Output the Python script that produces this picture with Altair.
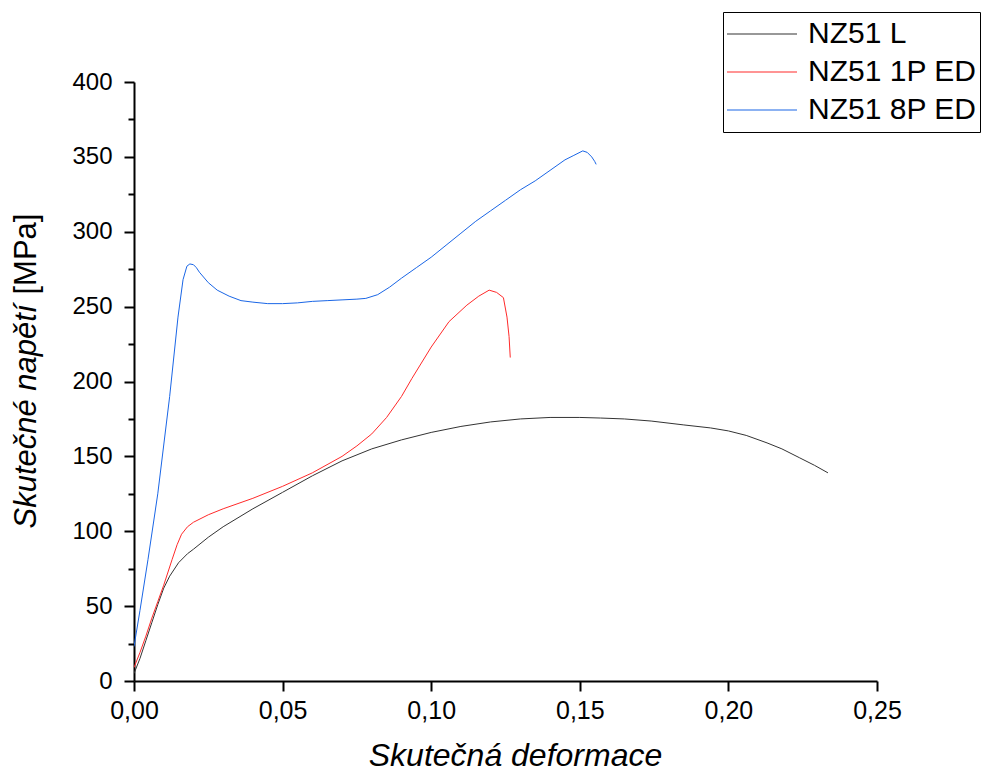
import altair as alt
import pandas as pd

series_names = ["NZ51 L", "NZ51 1P ED", "NZ51 8P ED"]
series_colors = ["#333333", "#ff2a2a", "#1a66e6"]

l_x = [0, 0.002, 0.004, 0.006, 0.008, 0.010, 0.012, 0.015, 0.018, 0.020, 0.025, 0.030,
       0.040, 0.050, 0.060, 0.070, 0.080, 0.090, 0.100, 0.110, 0.120, 0.130, 0.140,
       0.150, 0.157, 0.165, 0.174, 0.185, 0.194, 0.200, 0.206, 0.213, 0.218, 0.224,
       0.229, 0.2335]
l_y = [5, 15, 27, 39, 51, 62, 70, 79, 85, 88, 96, 103, 115, 126, 137, 147, 155, 161,
       166, 170, 173, 175, 176, 176, 175.6, 175, 173.6, 171, 169, 167, 164, 159, 155,
       149, 144, 139]

p1_x = [0, 0.002, 0.004, 0.006, 0.008, 0.010, 0.0128, 0.0145, 0.016, 0.018, 0.020,
        0.025, 0.030, 0.040, 0.050, 0.060, 0.070, 0.075, 0.080, 0.085, 0.090, 0.0935,
        0.100, 0.106, 0.112, 0.116, 0.1195, 0.122, 0.1243, 0.1255, 0.1262, 0.1266]
p1_y = [9, 19, 30, 42, 53, 64, 81, 91, 98, 103, 106, 111, 115, 122, 130, 139, 150, 157,
        165, 176, 190, 202, 223, 240, 251, 257, 261, 259.5, 256, 243, 230, 216]

p8_x = [0, 0.002, 0.0047, 0.008, 0.012, 0.0148, 0.0165, 0.0178, 0.0188, 0.020, 0.021,
        0.022, 0.025, 0.028, 0.032, 0.036, 0.040, 0.045, 0.050, 0.055, 0.060, 0.065,
        0.070, 0.075, 0.078, 0.082, 0.086, 0.090, 0.095, 0.100, 0.105, 0.110, 0.115,
        0.120, 0.125, 0.130, 0.135, 0.140, 0.145, 0.148, 0.151, 0.1525, 0.154, 0.155,
        0.1555]
p8_y = [23, 47, 81, 125, 190, 243, 268, 277, 278.5, 278, 276, 273, 266, 261, 257, 254,
        253, 252, 252, 252.5, 253.5, 254, 254.5, 255, 255.5, 258, 263, 269, 276, 283,
        291, 299, 307, 314, 321, 328, 334, 341, 348, 351, 354, 353, 350, 347, 345]

x_ticks = [0, 0.05, 0.10, 0.15, 0.20, 0.25]
y_ticks = [0, 50, 100, 150, 200, 250, 300, 350, 400]
y_minor = [25, 75, 125, 175, 225, 275, 325, 375]

rows = []
for name, xs, ys in zip(series_names, [l_x, p1_x, p8_x], [l_y, p1_y, p8_y]):
    for i, (xv, yv) in enumerate(zip(xs, ys)):
        rows.append({"series": name, "x": xv, "y": yv, "i": i})
df = pd.DataFrame(rows)

FONT = "Liberation Sans"

base = alt.Chart(df)

lines = base.mark_line(strokeWidth=1, clip=True).encode(
    x=alt.X("x:Q", scale=alt.Scale(domain=[0, 0.25], nice=False, zero=False),
            axis=alt.Axis(values=x_ticks, title="Skutečná deformace", grid=False,
                          labelExpr="replace(format(datum.value, '.2f'), '.', ',')",
                          labelFlush=False, labelOverlap=False,
                          labelFontSize=25, labelPadding=7, tickSize=10,
                          titleFontSize=32, titleFontStyle="italic", titleFontWeight="normal",
                          titleX=381, titleY=84, titleBaseline="alphabetic",
                          titleAlign="center")),
    y=alt.Y("y:Q", scale=alt.Scale(domain=[0, 400], nice=False),
            axis=alt.Axis(values=y_ticks, orient="left", title="Skutečné napětí", grid=False,
                          labelFontSize=24, labelPadding=12, tickSize=10,
                          labelFlush=False, labelOverlap=False,
                          titleFontSize=31, titleFontStyle="italic", titleFontWeight="normal",
                          titleAngle=-90, titleX=-99, titleY=446, titleAlign="left",
                          titleBaseline="alphabetic")),
    color=alt.Color("series:N",
                    scale=alt.Scale(domain=series_names, range=series_colors),
                    legend=alt.Legend(title=None, orient="none", legendX=589, legendY=-70,
                                      labelFont=FONT, labelFontSize=30, labelColor="black",
                                      labelLimit=400,
                                      symbolType="stroke", symbolSize=4900,
                                      symbolStrokeWidth=1.2, clipHeight=38, rowPadding=0,
                                      labelOffset=10, padding=3, strokeColor="black",
                                      fillColor="white", symbolOffset=0)),
    order="i:Q",
)

minor = base.mark_line(opacity=0).encode(
    x=alt.X("x:Q", scale=alt.Scale(domain=[0, 0.25], nice=False, zero=False)),
    y=alt.Y("y:Q", scale=alt.Scale(domain=[0, 400], nice=False),
            axis=alt.Axis(values=y_minor, orient="left", labels=False, domain=False,
                          grid=False, tickSize=6, title="[MPa]", titleFontSize=31,
                          titleFontStyle="normal", titleFontWeight="normal",
                          titleAngle=-90, titleX=-99, titleY=212, titleAlign="left",
                          titleBaseline="alphabetic")),
    detail="series:N",
)

chart = alt.layer(lines, minor).resolve_axis(y="independent").properties(
    width=743, height=599,
    background="white",
    autosize=alt.AutoSizeParams(type="none"),
    padding={"left": 134, "top": 82, "right": 107, "bottom": 90},
).configure_view(strokeWidth=0, strokeOpacity=0).configure_axis(
    grid=False, domainColor="black", domainWidth=2, tickColor="black", tickWidth=2,
    labelColor="black", titleColor="black", labelFont=FONT, titleFont=FONT,
)

chart.save("out.html", embed_options={"renderer": "svg", "actions": False})
